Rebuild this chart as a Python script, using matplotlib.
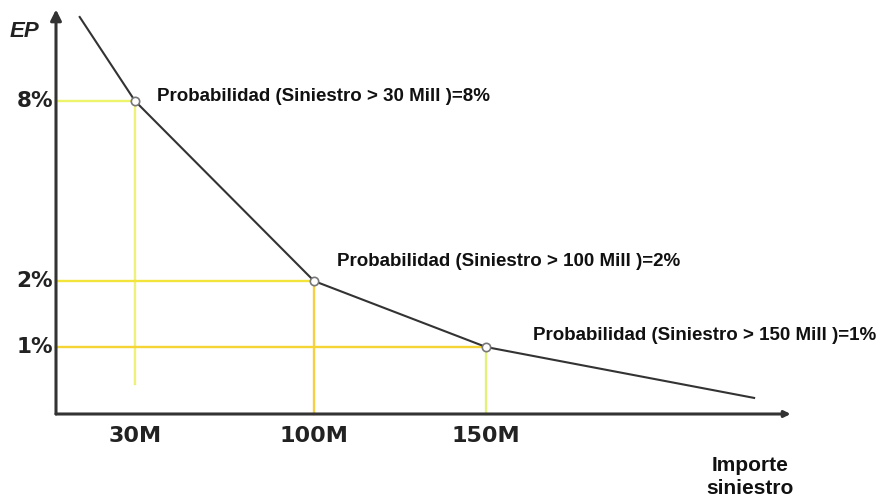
import numpy as np
import matplotlib
matplotlib.use("Agg")
import matplotlib.pyplot as plt

# curva de excedencia (EP) frente al importe del siniestro, en millones
curve_m = [9, 30, 100, 150, 238]
curve_ep = [10.8, 8, 2, 1, 0.24]

# puntos destacados
point_m = [30, 100, 150]
point_ep = [8, 2, 1]
point_labels = ["Probabilidad (Siniestro > 30 Mill )=8%",
                "Probabilidad (Siniestro > 100 Mill )=2%",
                "Probabilidad (Siniestro > 150 Mill )=1%"]
x_ticklabels = ["30M", "100M", "150M"]
y_ticklabels = ["8%", "2%", "1%"]

# escalas esquemáticas (no lineales) del dibujo original, por tramos
xs_m = [-30, 0, 30, 100, 150, 300]
xs_px = [-23, 56, 135, 314, 486, 943]
ys_ep = [-2, 0, 1, 2, 8, 14]
ys_px = [-46, 87, 154, 220, 400, 580]

def fx(v):
    return np.interp(v, xs_m, xs_px)

def fx_inv(p):
    return np.interp(p, xs_px, xs_m)

def fy(v):
    return np.interp(v, ys_ep, ys_px)

def fy_inv(p):
    return np.interp(p, ys_px, ys_ep)

fig = plt.figure(figsize=(8.85, 5.01), dpi=100)
ax = fig.add_axes([0, 0, 1, 1])
ax.set_xscale("function", functions=(fx, fx_inv))
ax.set_yscale("function", functions=(fy, fy_inv))
ax.set_xlim(float(fx_inv(0)), float(fx_inv(885)))
ax.set_ylim(float(fy_inv(0)), float(fy_inv(501)))
ax.axis("off")

# líneas guía amarillas
h_colors = ["#eef36c", "#f3e43c", "#f5d535"]
v_colors = ["#eef27a", "#f5cf45", "#e3f07a"]
v_bottom = [0.45, 0, 0]
for m, p, hc, vc, vb in zip(point_m, point_ep, h_colors, v_colors, v_bottom):
    ax.plot([0, m], [p, p], color=hc, lw=1.7, zorder=1)
    ax.plot([m, m], [p, vb], color=vc, lw=1.7, zorder=1)

# curva
ax.plot(curve_m, curve_ep, color="#333333", lw=1.5, zorder=2)
ax.plot(point_m, point_ep, "o", mfc="white", mec="#777777", mew=1.2, ms=6, zorder=3)

# ejes con flechas
ax.annotate("", xy=(0, 11.05), xytext=(0, 0),
            arrowprops=dict(arrowstyle="-|>", lw=2.2, color="#333333",
                            mutation_scale=16, shrinkA=0, shrinkB=0))
ax.annotate("", xy=(250, 0), xytext=(0, 0),
            arrowprops=dict(arrowstyle="-|>", lw=2.2, color="#333333",
                            mutation_scale=9, shrinkA=0, shrinkB=0))

# etiquetas de los ejes
for lbl, p in zip(y_ticklabels, point_ep):
    ax.annotate(lbl, xy=(0, p), xytext=(-2, 0), textcoords="offset points",
                ha="right", va="center", fontsize=15.5, fontweight="bold",
                color="#222222", family="DejaVu Sans")
for lbl, m in zip(x_ticklabels, point_m):
    ax.annotate(lbl, xy=(m, 0), xytext=(0, -9), textcoords="offset points",
                ha="center", va="top", fontsize=16, fontweight="bold",
                color="#222222", family="DejaVu Sans")

ax.annotate("EP", xy=(0, 11.05), xytext=(-22.5, -16), textcoords="offset points",
            ha="center", va="center", fontsize=16, fontweight="bold",
            fontstyle="italic", color="#222222", family="Liberation Sans")
ax.annotate("Importe\nsiniestro", xy=(250, 0), xytext=(-29, -30),
            textcoords="offset points", ha="center", va="top",
            fontsize=15, fontweight="bold", color="#111111",
            family="Liberation Sans", linespacing=1.3)

# textos de probabilidad
offsets = [(16, 3.6), (16.5, 13.7), (34, 8)]
for lbl, m, p, off in zip(point_labels, point_m, point_ep, offsets):
    ax.annotate(lbl, xy=(m, p), xytext=off, textcoords="offset points",
                ha="left", va="center", fontsize=13.5, fontweight="bold",
                color="#111111", family="Liberation Sans")

fig.savefig("out.png", dpi=100)
